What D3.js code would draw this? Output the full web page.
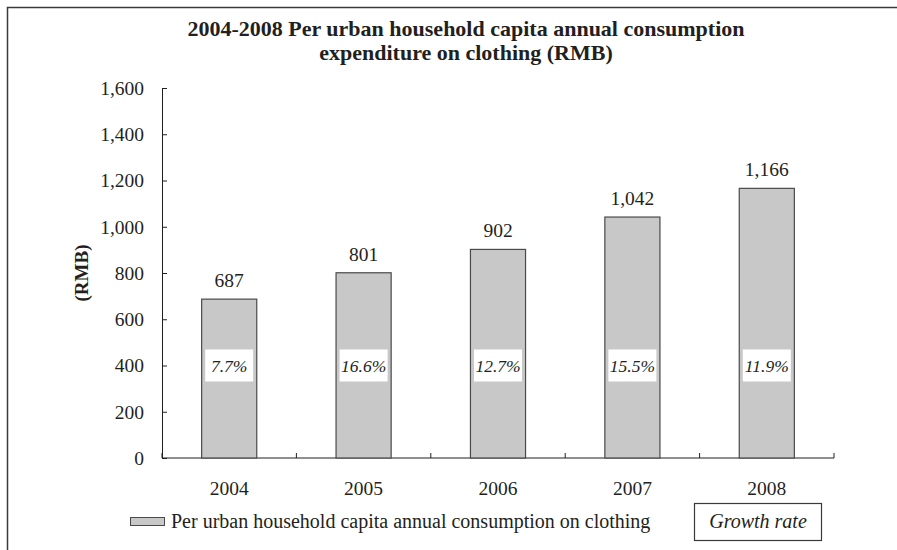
<!DOCTYPE html>
<html>
<head>
<meta charset="utf-8">
<script src="https://cdn.jsdelivr.net/npm/d3@7"></script>
<style>
  html, body { margin: 0; padding: 0; background: #fff; }
  svg text { font-family: "Liberation Serif", "Times New Roman", serif; fill: #231f20; }
</style>
</head>
<body>
<svg id="chart" width="897" height="550"></svg>
<script>
// Annual clothing spend per urban household member, 2004-2008
const years = ["2004", "2005", "2006", "2007", "2008"];
const spending = [687, 801, 902, 1042, 1166];
const growthRates = ["7.7%", "16.6%", "12.7%", "15.5%", "11.9%"];
const yTicks = [0, 200, 400, 600, 800, 1000, 1200, 1400, 1600];
const titleLines = ["2004-2008 Per urban household capita annual consumption",
                    "expenditure on clothing (RMB)"];
const yAxisTitle = "(RMB)";
const legendBarLabel = "Per urban household capita annual consumption on clothing";
const legendRateLabel = "Growth rate";
const rateLabelLevel = 400;

const svg = d3.select("#chart");
const ink = "#231f20";
const margin = { left: 162, right: 63, top: 88, bottom: 92 };
const W = 897, H = 550;

// Outer frame (top and left edges)
svg.append("path")
  .attr("d", `M7.5,${H} V7.5 H${W}`)
  .attr("fill", "none").attr("stroke", "#3a3a3a").attr("stroke-width", 1.5);

const x = d3.scaleBand().domain(years)
  .range([margin.left, W - margin.right])
  .paddingInner(0.59).paddingOuter(0.295);
const y = d3.scaleLinear().domain([0, 1600]).range([H - margin.bottom, margin.top]);

// Title
svg.append("g").selectAll("text").data(titleLines).join("text")
  .attr("x", 466).attr("y", (d, i) => 35.5 + i * 24.5)
  .attr("text-anchor", "middle")
  .attr("font-weight", "bold").attr("font-size", 22)
  .text(d => d);

// Y axis
const yAxis = svg.append("g").attr("transform", `translate(${margin.left},0)`)
  .call(d3.axisLeft(y).tickValues(yTicks).tickSize(-5).tickPadding(18)
    .tickFormat(d3.format(",")));
yAxis.select(".domain").attr("stroke", ink);
yAxis.selectAll(".tick line").attr("stroke", ink);
yAxis.selectAll(".tick text").attr("font-size", 19.5)
  .attr("font-family", "Liberation Serif, serif").attr("fill", ink);

svg.append("text")
  .attr("transform", `translate(88,${(y(0) + y(1600)) / 2}) rotate(-90)`)
  .attr("text-anchor", "middle").attr("font-weight", "bold").attr("font-size", 19)
  .text(yAxisTitle);

// X axis: baseline with inward ticks between categories
const baseY = y(0);
const step = x.step();
const xAxis = svg.append("g");
xAxis.append("line")
  .attr("x1", margin.left).attr("x2", W - margin.right)
  .attr("y1", baseY).attr("y2", baseY).attr("stroke", ink);
const boundaries = d3.range(years.length + 1).map(i => margin.left + i * step);
xAxis.selectAll("line.tk").data(boundaries).join("line").attr("class", "tk")
  .attr("x1", d => d).attr("x2", d => d)
  .attr("y1", baseY).attr("y2", baseY - 5).attr("stroke", ink);
xAxis.selectAll("text").data(years).join("text")
  .attr("x", d => x(d) + x.bandwidth() / 2).attr("y", baseY + 37)
  .attr("text-anchor", "middle").attr("font-size", 19.5).text(d => d);

// Bars
const bars = svg.append("g");
bars.selectAll("rect").data(years).join("rect")
  .attr("x", d => x(d)).attr("width", x.bandwidth())
  .attr("y", (d, i) => y(spending[i]))
  .attr("height", (d, i) => y(0) - y(spending[i]))
  .attr("fill", "#c8c8c9").attr("stroke", "#4a4a4a").attr("stroke-width", 1.2);

// Value labels
svg.append("g").selectAll("text").data(years).join("text")
  .attr("x", d => x(d) + x.bandwidth() / 2)
  .attr("y", (d, i) => y(spending[i]) - 12)
  .attr("text-anchor", "middle").attr("font-size", 19.5)
  .text((d, i) => d3.format(",")(spending[i]));

// Growth-rate tags inside bars
const tags = svg.append("g").selectAll("g").data(years).join("g")
  .attr("transform", d => `translate(${x(d) + x.bandwidth() / 2},${y(rateLabelLevel)})`);
tags.append("rect").attr("x", -24).attr("y", -16).attr("width", 48).attr("height", 32)
  .attr("fill", "#fff");
tags.append("text").attr("y", 6).attr("text-anchor", "middle")
  .attr("font-style", "italic").attr("font-size", 17.5)
  .text((d, i) => growthRates[i]);

// Legend
const lg = svg.append("g");
lg.append("rect").attr("x", 130.5).attr("y", 517.5).attr("width", 34).attr("height", 8)
  .attr("fill", "#c8c8c9").attr("stroke", "#4a4a4a");
lg.append("text").attr("x", 171).attr("y", 528).attr("font-size", 20).text(legendBarLabel);
lg.append("rect").attr("x", 694.5).attr("y", 503.5).attr("width", 127).attr("height", 37)
  .attr("fill", "#fff").attr("stroke", "#3a3a3a").attr("stroke-width", 1.2);
lg.append("text").attr("x", 758).attr("y", 528).attr("text-anchor", "middle")
  .attr("font-style", "italic").attr("font-size", 20).text(legendRateLabel);
</script>
</body>
</html>
